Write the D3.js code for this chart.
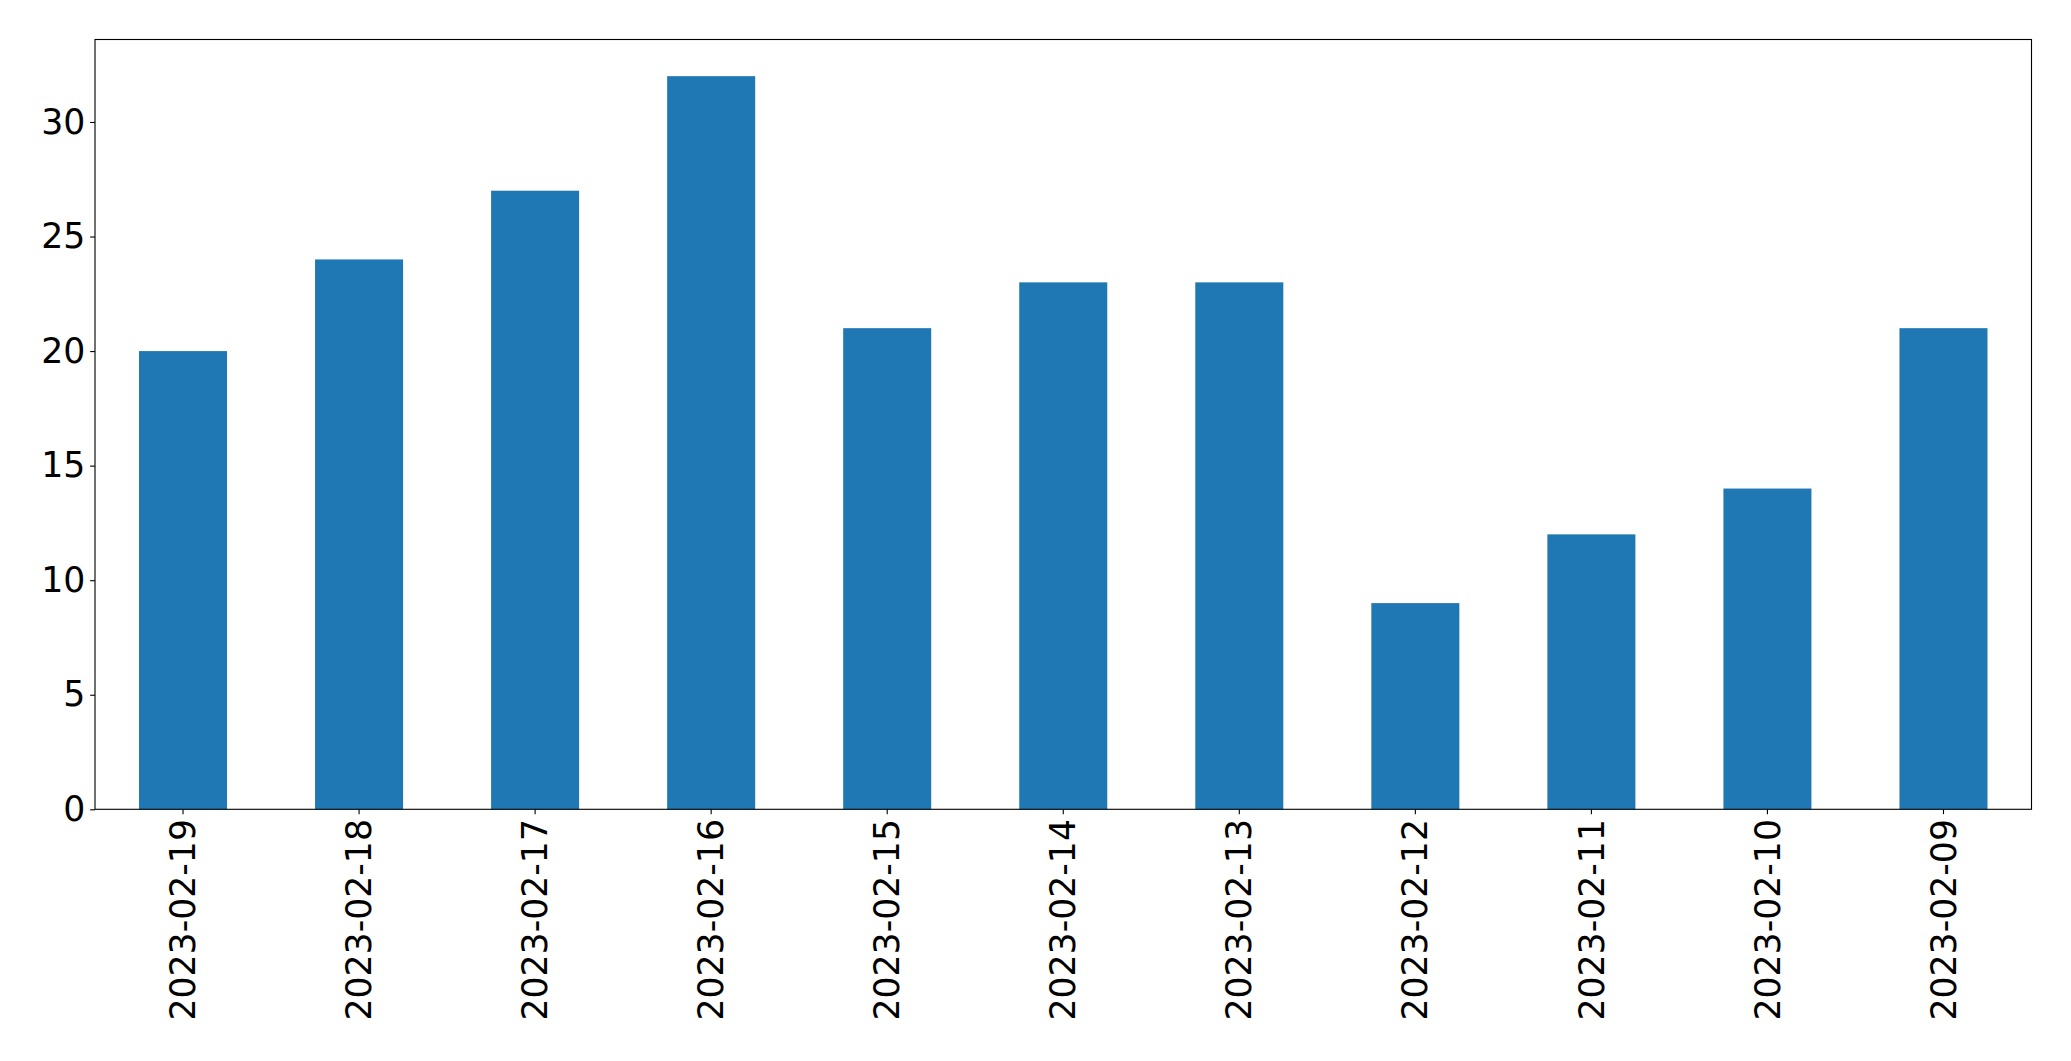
<!DOCTYPE html>
<html><head><meta charset="utf-8">
<script src="https://cdn.jsdelivr.net/npm/d3@7"></script>
<style>body{margin:0;background:#fff}svg{display:block}</style>
</head><body>
<script>
const categories = ["2023-02-19","2023-02-18","2023-02-17","2023-02-16","2023-02-15","2023-02-14","2023-02-13","2023-02-12","2023-02-11","2023-02-10","2023-02-09"];
const values = [20,24,27,32,21,23,23,9,12,14,21];
const yTicks = [0,5,10,15,20,25,30];

const W=2071,H=1061;
const m={left:95,right:2031.5,top:39.5,bottom:809.3};
const fs=34.7, tickLen=4.86, pad=4.86;
const svg=d3.select("body").append("svg").attr("width",W).attr("height",H);
const x=d3.scaleBand().domain(categories).range([m.left,m.right]).paddingInner(0.5).paddingOuter(0.25);
const y=d3.scaleLinear().domain([0,d3.max(values)*1.05]).range([m.bottom,m.top]);

svg.append("g").selectAll("rect").data(values).join("rect")
  .attr("x",(d,i)=>x(categories[i])).attr("width",x.bandwidth())
  .attr("y",d=>y(d)).attr("height",d=>y(0)-y(d)).attr("fill","#1f77b4");

const ya=svg.append("g").attr("transform",`translate(${m.left},0)`)
  .call(d3.axisLeft(y).tickValues(yTicks).tickSize(tickLen).tickPadding(pad).tickFormat(d3.format("d")));
ya.select(".domain").remove();
ya.selectAll("line").attr("stroke","#000").attr("stroke-width",1.11);
ya.selectAll("text").attr("font-family","DejaVu Sans").attr("font-size",fs).attr("fill","#000");

const xa=svg.append("g").attr("transform",`translate(0,${m.bottom})`)
  .call(d3.axisBottom(x).tickSize(tickLen).tickPadding(pad));
xa.select(".domain").remove();
xa.selectAll("line").attr("stroke","#000").attr("stroke-width",1.11);
xa.selectAll("text").attr("font-family","DejaVu Sans").attr("font-size",fs).attr("fill","#000")
  .attr("transform","rotate(-90)").attr("text-anchor","end").attr("dy","0.35em")
  .attr("x",-(tickLen+pad)).attr("y",0);

svg.append("rect").attr("x",m.left).attr("y",m.top).attr("width",m.right-m.left).attr("height",m.bottom-m.top)
  .attr("fill","none").attr("stroke","#000").attr("stroke-width",1.11);
</script>
</body></html>
